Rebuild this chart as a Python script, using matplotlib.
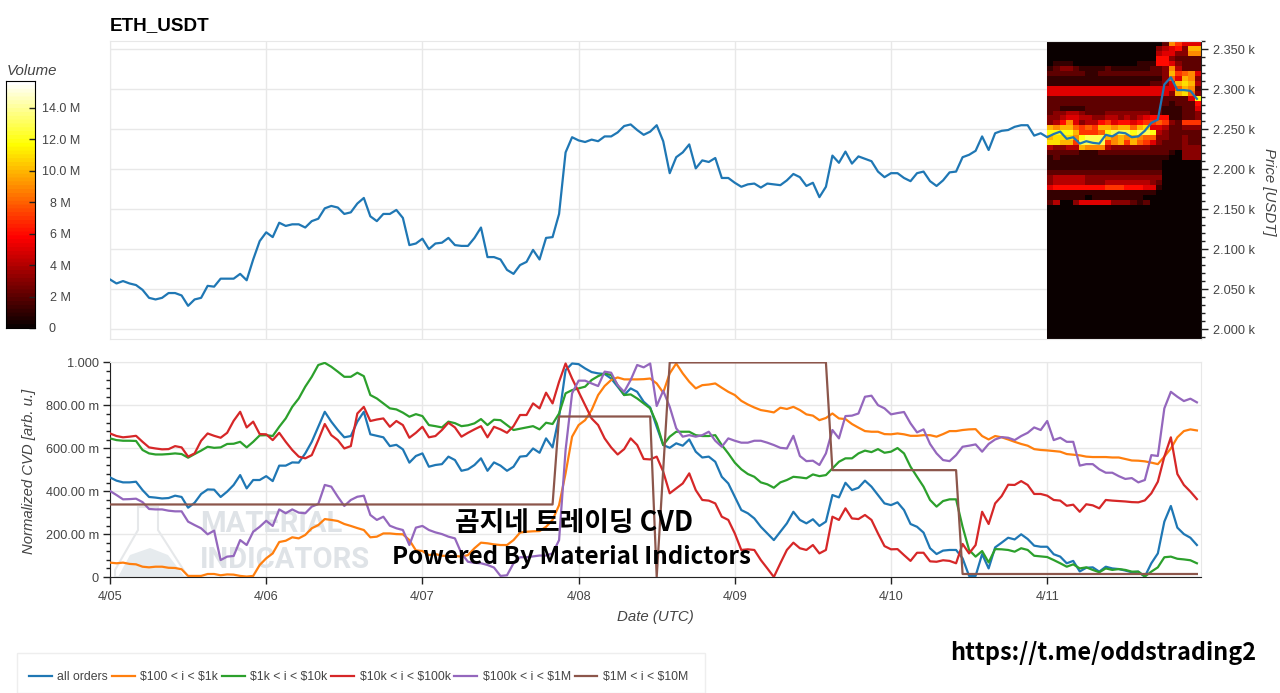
import numpy as np
import matplotlib
matplotlib.use('Agg')
import matplotlib.pyplot as plt
from matplotlib.colors import ListedColormap
from matplotlib.patches import Polygon, Rectangle
from matplotlib.ticker import MultipleLocator
from matplotlib.transforms import ScaledTranslation

W, H = 1280, 693
plt.rcParams['font.family'] = ['Liberation Sans', 'DejaVu Sans']

# hourly values, starting 4/05 00:00
price = [2062, 2057, 2060, 2057, 2055, 2049, 2039, 2037, 2039, 2045, 2045, 2042, 2029, 2037, 2039, 2054, 2053, 2063, 2063, 2063, 2069, 2061, 2087, 2110,
         2121, 2115, 2133, 2129, 2131, 2131, 2127, 2135, 2138, 2151, 2154, 2152, 2144, 2146, 2157, 2164, 2141, 2135, 2144, 2144, 2149, 2139, 2105, 2107,
         2113, 2100, 2107, 2108, 2114, 2105, 2104, 2104, 2114, 2127, 2090, 2090, 2087, 2074, 2069, 2080, 2084, 2099, 2087, 2114, 2115, 2144, 2221, 2240,
         2236, 2234, 2237, 2235, 2241, 2241, 2246, 2254, 2256, 2249, 2243, 2247, 2255, 2235, 2195, 2215, 2221, 2231, 2201, 2211, 2209, 2214, 2189, 2189,
         2183, 2178, 2181, 2182, 2177, 2182, 2181, 2180, 2186, 2194, 2190, 2179, 2183, 2165, 2178, 2217, 2208, 2222, 2207, 2216, 2213, 2210, 2197, 2190,
         2195, 2195, 2189, 2185, 2195, 2197, 2185, 2179, 2186, 2196, 2197, 2215, 2218, 2223, 2241, 2224, 2245, 2248, 2249, 2253, 2255, 2255, 2242, 2245,
         2240, 2244, 2247, 2238, 2240, 2232, 2235, 2233, 2232, 2243, 2241, 2246, 2245, 2240, 2241, 2248, 2258, 2262, 2306, 2315, 2299, 2299, 2298, 2288]

all_orders = [.464, .449, .441, .441, .444, .405, .373, .370, .366, .368, .379, .373, .323, .346, .387, .408, .407, .373, .398, .429, .475, .413, .452, .452, .470,
              .447, .519, .519, .534, .533, .576, .630, .700, .770, .724, .685, .651, .657, .724, .770, .665, .658, .651, .610, .616, .595, .533, .564, .576, .514,
              .522, .526, .561, .545, .495, .502, .522, .553, .495, .534, .519, .495, .514, .561, .564, .599, .579, .646, .604, .747, .964, .995, .992, .972, .955, .949,
              .946, .925, .887, .848, .879, .863, .817, .790, .700, .615, .602, .623, .612, .641, .584, .557, .561, .537, .467, .436, .374, .312, .297, .273, .234, .203,
              .172, .211, .250, .304, .266, .250, .269, .238, .258, .382, .371, .439, .405, .416,
              .449, .421, .382, .343, .335, .348, .312, .247, .234, .207, .134, .107, .123, .126, .126, .087, .005, .005, .107, .040, .138, .160, .183, .175, .199, .177,
              .146, .141, .141, .106, .095, .064, .075, .026, .043, .045, .025, .048, .040, .037, .030, .022, .025, .002, .064, .110, .258, .331, .230, .200, .183, .149]
usd_100_1k = [.067, .064, .067, .061, .059, .048, .045, .048, .048, .043, .042, .036, .005, .005, .005, .014, .014, .008, .012, .011, .005, .002, .005, .056, .087,
              .110, .163, .169, .185, .180, .196, .227, .242, .270, .266, .261, .247, .238, .228, .219, .185, .188, .203, .203, .200, .199, .172, .124, .121, .102,
              .107, .099, .098, .098, .095, .102, .134, .160, .157, .152, .149, .149, .172, .207, .211, .213, .214, .234, .266, .335, .483, .654, .708, .731, .778, .848,
              .890, .918, .930, .921, .921, .921, .922, .925, .902, .859, .949, .995, .949, .910, .879, .894, .897, .902, .882, .863, .848, .821, .804, .790, .778, .773,
              .767, .789, .783, .793, .778, .758, .752, .731, .741, .762, .739, .736, .713, .696,
              .680, .677, .677, .666, .665, .669, .665, .658, .658, .661, .661, .654, .666, .680, .680, .685, .688, .689, .657, .641, .657, .651, .641, .630, .620, .612,
              .596, .592, .590, .587, .584, .573, .570, .567, .561, .559, .559, .559, .557, .557, .550, .543, .542, .539, .533, .526, .561, .599, .651, .680, .688, .683]
usd_1k_10k = [.646, .638, .635, .635, .634, .592, .576, .571, .571, .573, .576, .573, .556, .573, .589, .607, .602, .604, .620, .621, .630, .604, .630, .660, .661,
              .657, .700, .739, .793, .832, .887, .933, .988, .998, .980, .957, .933, .933, .952, .936, .848, .832, .809, .786, .781, .766, .747, .759, .750, .708,
              .703, .697, .724, .717, .703, .707, .716, .736, .708, .733, .731, .708, .685, .691, .697, .703, .688, .719, .713, .762, .856, .871, .879, .887, .918, .936,
              .949, .941, .894, .848, .851, .832, .809, .786, .716, .615, .654, .677, .677, .677, .661, .657, .657, .661, .615, .576, .533, .502, .480, .467, .441, .432,
              .416, .441, .452, .467, .464, .460, .478, .470, .475, .506, .537, .553, .553, .576,
              .589, .582, .596, .579, .584, .601, .576, .514, .467, .421, .359, .328, .354, .362, .362, .234, .126, .095, .121, .068, .130, .129, .126, .118, .134, .126,
              .099, .096, .093, .079, .064, .048, .059, .040, .045, .033, .022, .040, .033, .037, .033, .025, .025, .002, .025, .045, .092, .095, .085, .082, .078, .064]
usd_10k_100k = [.669, .657, .651, .654, .658, .630, .604, .599, .595, .596, .610, .604, .561, .576, .635, .669, .658, .649, .672, .728, .770, .697, .724, .666, .665,
                .638, .672, .630, .592, .561, .553, .568, .638, .713, .661, .638, .599, .610, .762, .793, .727, .734, .739, .700, .727, .708, .649, .672, .700, .651,
                .657, .685, .719, .697, .654, .672, .688, .703, .651, .700, .688, .672, .703, .755, .755, .809, .786, .859, .809, .910, .995, .925, .863, .801, .739, .708,
                .646, .604, .571, .596, .646, .615, .550, .548, .561, .491, .390, .413, .436, .483, .405, .359, .356, .343, .281, .266, .203, .126, .129, .126, .079, .040,
                0, .064, .126, .160, .134, .126, .149, .110, .126, .281, .266, .320, .273, .270,
                .289, .266, .203, .144, .129, .130, .102, .075, .113, .113, .073, .071, .078, .075, .064, .154, .110, .149, .304, .247, .343, .377, .430, .429, .447, .429,
                .387, .387, .379, .359, .356, .332, .337, .304, .339, .334, .320, .359, .356, .354, .352, .349, .348, .357, .390, .444, .561, .651, .480, .429, .398, .363]
usd_100k_1m = [.401, .382, .362, .363, .365, .349, .317, .315, .315, .309, .306, .306, .258, .242, .227, .199, .216, .079, .095, .098, .172, .149, .211, .234, .262,
               .238, .315, .297, .315, .300, .297, .328, .340, .429, .421, .374, .331, .359, .374, .379, .289, .266, .281, .239, .227, .219, .149, .230, .238, .219,
               .208, .200, .188, .180, .110, .071, .066, .064, .056, .044, .005, .008, .064, .092, .092, .096, .100, .100, .110, .172, .592, .856, .915, .915, .902, .890,
               .957, .952, .894, .863, .918, .988, .977, .995, .797, .868, .793, .693, .654, .661, .654, .661, .677, .635, .607, .646, .635, .626, .626, .635, .635, .626,
               .615, .602, .599, .658, .564, .540, .542, .522, .576, .685, .646, .750, .752, .762,
               .840, .845, .801, .786, .758, .764, .769, .716, .674, .688, .620, .576, .545, .540, .568, .607, .612, .618, .584, .620, .641, .652, .649, .638, .657, .672,
               .697, .685, .727, .638, .649, .630, .630, .519, .526, .526, .502, .486, .486, .470, .457, .461, .441, .452, .568, .564, .786, .863, .840, .820, .831, .814]
usd_1m_10m = [.338] * 69 + [.748] * 15 + [0, .5] + [1.0] * 25 + [.498] * 20 + [.014] * 37

series_names = ['all orders', r'\$100 < i < \$1k', r'\$1k < i < \$10k', r'\$10k < i < \$100k', r'\$100k < i < \$1M', r'\$1M < i < \$10M']
series_colors = ['#1f77b4', '#ff7f0e', '#2ca02c', '#d62728', '#9467bd', '#8c564b']
all_series = [all_orders, usd_100_1k, usd_1k_10k, usd_10k_100k, usd_100k_1m, usd_1m_10m]

# volume heatmap for 4/11 in M, one hex digit per cell, top row first
volume_rows = [
    '000000000000000000297555',
    '0000000000000000034563aa',
    '000000000000000004553399',
    '000000000000000006632222',
    '011100000000001116653222',
    '123321111211111122394222',
    '2222221122222222223a7895',
    '111111111111111111385a93',
    '11111111111111112235aba4',
    '555555555555555555558a92',
    '55555555555555555553ab83',
    '22222222222222222222225c',
    '222222222222222222212226',
    '221111222222222222111225',
    '233443222333333322111223',
    '334554433443434566611223',
    '346953446756656778732777',
    'a9aa8787aa9aa8ab55422333',
    'cccca7778cdddcddc4322222',
    'abbb9cddda9a9a9883322322',
    'bbaa7dddd79a7a8753222322',
    '43344a999433333322222333',
    '222221112222222222210333',
    '121111111111111111100333',
    '111111111111111111000000',
    '111111111111111111000000',
    '222222222222222222000000',
    '344444333333333333000000',
    '344444333444444432000000',
    '566666666777666551000000',
    '111111111111111110000000',
    '111111011111111000000000',
    '240035555533321200000000',
]

price_ticks = [2000, 2050, 2100, 2150, 2200, 2250, 2300, 2350]
price_labels = ['2.000 k', '2.050 k', '2.100 k', '2.150 k', '2.200 k', '2.250 k', '2.300 k', '2.350 k']
cvd_ticks = [0, .2, .4, .6, .8, 1.0]
cvd_labels = ['0', '200.00 m', '400.00 m', '600.00 m', '800.00 m', '1.000']
day_ticks = [0, 1, 2, 3, 4, 5, 6]
day_labels = ['4/05', '4/06', '4/07', '4/08', '4/09', '4/10', '4/11']
volume_ticks = [0, 2, 4, 6, 8, 10, 12, 14]
volume_labels = ['0', '2 M', '4 M', '6 M', '8 M', '10.0 M', '12.0 M', '14.0 M']


def px_axes(left, top, right, bottom):
    return fig.add_axes([left / W, 1 - bottom / H, (right - left) / W, (bottom - top) / H])


def px_text(x, y, s, **kw):
    return fig.text(x / W, 1 - y / H, s, **kw)


grey = '#444444'
grid = '#e8e8e8'
xmax = (1201 - 110) / 156.2
hours = np.arange(168) / 24

fig = plt.figure(figsize=(W / 100, H / 100), dpi=100)

# price panel
ax1 = px_axes(110, 41, 1201, 339)
ymin, ymax = 1987.5, 2360.4
grid_vals = np.zeros((60, 24))
for i, row in enumerate(volume_rows):
    grid_vals[i] = [int(c, 16) for c in row]
hot64 = ListedColormap(plt.get_cmap('hot')(np.linspace(0, 1, 64)))
ax1.imshow(grid_vals, extent=[6, xmax, ymin, ymax], aspect='auto', cmap=hot64, vmin=0, vmax=15.7,
           interpolation='nearest', zorder=1)
ax1.plot(hours, price, color='#1f77b4', lw=1.6, zorder=3)
ax1.set_xlim(0, xmax)
ax1.set_ylim(ymin, ymax)
ax1.set_xticks(day_ticks)
ax1.tick_params(axis='x', length=0, labelbottom=False)
ax1.yaxis.tick_right()
ax1.set_yticks(price_ticks, price_labels)
ax1.yaxis.set_minor_locator(MultipleLocator(10))
ax1.tick_params(axis='y', which='major', length=5, width=1, color='#222222', labelsize=9.2, labelcolor=grey, pad=3.5)
ax1.tick_params(axis='y', which='minor', length=3, width=1, color='#222222')
ax1.grid(True, color=grid, lw=1, zorder=0)
ax1.set_axisbelow(True)
for side in ['left', 'top', 'bottom']:
    ax1.spines[side].set_color(grid)
ax1.spines['right'].set_color('#222222')
px_text(110, 26, 'ETH_USDT', fontsize=13.6, fontweight='bold', color='black', va='center')
px_text(1269, 192, 'Price [USDT]', fontsize=10.8, style='italic', color=grey, rotation=-90, ha='center', va='center')

# cvd panel
ax2 = px_axes(110, 362, 1201, 577)
for s, name, c in zip(all_series, series_names, series_colors):
    ax2.plot(hours, s, color=c, lw=1.6, label=name, zorder=3)
ax2.set_xlim(0, xmax)
ax2.set_ylim(0, 1.002)
ax2.set_xticks(day_ticks, day_labels)
ax2.set_yticks(cvd_ticks, cvd_labels)
ax2.yaxis.set_minor_locator(MultipleLocator(.04))
ax2.tick_params(axis='both', which='major', length=5, width=1, color='#222222', labelsize=9.2, labelcolor=grey)
ax2.tick_params(axis='x', which='major', pad=5)
ax2.tick_params(axis='y', which='major', pad=3)
ax2.tick_params(axis='y', which='minor', length=3, width=1, color='#222222')
ax2.grid(True, color=grid, lw=1)
ax2.set_axisbelow(True)
for side in ['top', 'right']:
    ax2.spines[side].set_color(grid)
for side in ['left', 'bottom']:
    ax2.spines[side].set_color('#222222')
px_text(655, 617, 'Date (UTC)', fontsize=10.8, style='italic', color=grey, ha='center', va='center')
px_text(29, 471, 'Normalized CVD [arb. u.]', fontsize=10.7, style='italic', color=grey, rotation=90, ha='center', va='center')

# legend
fig.add_artist(Rectangle((17 / W, 0), 688 / W, 40 / H, transform=fig.transFigure, fc='white', ec='#eeeeee', lw=1))
fig.legend(*ax2.get_legend_handles_labels(), loc='center left', bbox_to_anchor=(29 / W, 1 - 677 / H), ncol=6,
           frameon=False, fontsize=8.8, labelcolor=grey, handlelength=1.85, handletextpad=.48, columnspacing=.3,
           borderpad=0, borderaxespad=0)

# colour bar
cax = px_axes(6, 81, 35, 328)
ramp = np.linspace(15.7, 0, 256).reshape(-1, 1)
cax.imshow(ramp, extent=[0, 1, 0, 15.7], aspect='auto', cmap=hot64, vmin=0, vmax=15.7)
cax.set_xticks([])
cax.yaxis.tick_right()
cax.set_yticks(volume_ticks, volume_labels)
cax.tick_params(axis='y', direction='in', length=4, width=1, color='#222222', labelsize=9, labelcolor=grey, pad=18.5)
for lab in cax.get_yticklabels():
    lab.set_ha('center')
zero_lab = cax.get_yticklabels()[0]
zero_lab.set_transform(zero_lab.get_transform() + ScaledTranslation(-.09, 0, fig.dpi_scale_trans))
px_text(7, 71, 'Volume', fontsize=10.8, style='italic', color=grey, va='center')

# watermark
mark = '#dfe3e7'
for y, s in [(524, 'MATERIAL'), (560, 'INDICATORS')]:
    ax2.text(200 / W, 1 - y / H, s, transform=fig.transFigure, fontsize=21, fontweight='bold', color=mark,
             family=['Roboto', 'Liberation Sans'], va='center', zorder=1)
flask = [(138, 507), (138, 530), (115, 570), (115, 577), (188, 577), (158, 530), (158, 507)]
hill = [(118, 577), (130, 555), (150, 548), (168, 555), (185, 577)]
to_fig = lambda pts: [(x / W, 1 - y / H) for x, y in pts]
ax2.add_patch(Polygon(to_fig(flask), closed=True, fc='none', ec='#e6e8ea', lw=1.5, transform=fig.transFigure, zorder=1, clip_on=False))
ax2.add_patch(Polygon(to_fig(hill), closed=True, fc='#e6ebee', ec='none', transform=fig.transFigure, zorder=1, clip_on=False))

# channel text
kr = ['Noto Sans CJK KR', 'DejaVu Sans']
px_text(574, 523, '곰지네 트레이딩 CVD', fontsize=19.3, family=kr, fontweight='bold', color='black', ha='center', va='center', zorder=5)
px_text(571, 557, 'Powered By Material Indictors', fontsize=17.4, family=kr, fontweight='bold', color='black', ha='center', va='center', zorder=5)
px_text(1103, 653, 'https://t.me/oddstrading2', fontsize=16.9, family=kr, fontweight='bold', color='black', ha='center', va='center', zorder=5)

fig.savefig('out.png', dpi=100)
